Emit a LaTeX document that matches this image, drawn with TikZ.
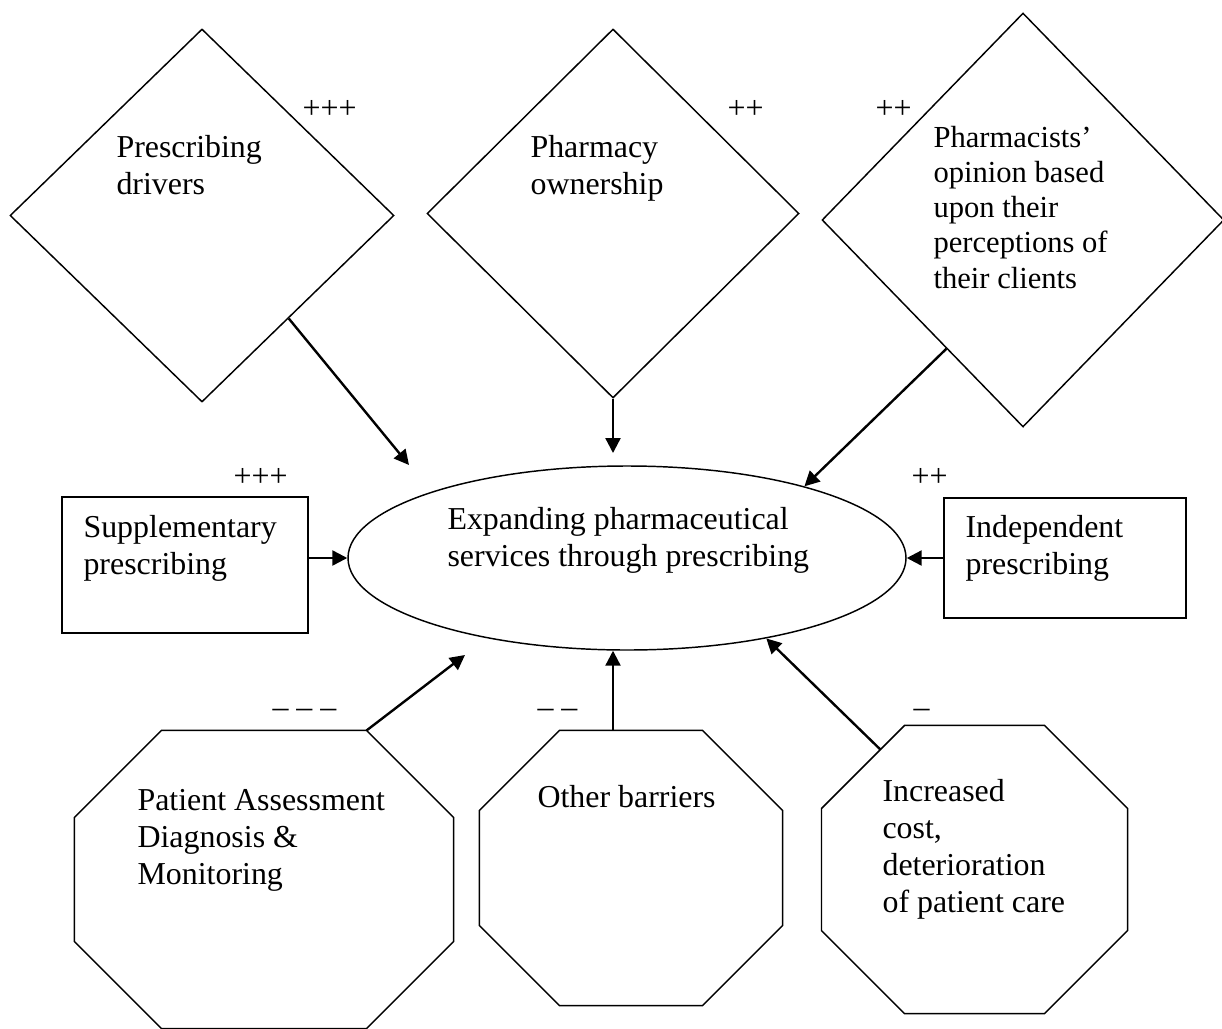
\documentclass[tikz,border=0pt]{standalone}
\usepackage{fontspec}
\setmainfont{Liberation Serif}
\usetikzlibrary{shapes.geometric}
\usetikzlibrary{arrows.meta}
\usetikzlibrary{calc}
\newcommand{\px}{0.376pt}
\tikzset{
    dims/.style 2 args={
        minimum width=#1*\px,
        minimum height=#2*\px
    },
    factorshape/.style={draw, diamond, inner sep=0pt, line width=0.55pt},
    barriershape/.style={rectangle, inner sep=0pt},
    modebox/.style={draw, rectangle, inner sep=0pt, line width=0.55pt},
    aimshape/.style={draw, ellipse, inner sep=0pt, line width=0.55pt},
    labeltext/.style={anchor=base west, align=left, inner sep=0pt,
        font=\fontsize{12}{13.8}\selectfont},
    signtext/.style={anchor=base west, inner sep=0pt,
        font=\fontsize{12}{13.8}\selectfont},
    arrowlink/.style={-{Triangle[length=5.6pt,width=5.6pt]}, line width=0.9pt}
}
\newcommand{\sign}[4] {
	\node[signtext] (#1) at (#2,#3) {#4};
}
% outline of a barrier node, corners cut by #2 pixels
\newcommand{\octagon}[2] {
	\draw[line width=0.55pt]
		([xshift=#2*\px]#1.north west) -- ([xshift=-#2*\px]#1.north east)
		-- ([yshift=-#2*\px]#1.north east) -- ([yshift=#2*\px]#1.south east)
		-- ([xshift=-#2*\px]#1.south east) -- ([xshift=#2*\px]#1.south west)
		-- ([yshift=#2*\px]#1.south west) -- ([yshift=-#2*\px]#1.north west) -- cycle;
}

\begin{document}
\begin{tikzpicture}[x=\px, y=-\px]
		\useasboundingbox (0,0) rectangle (1222,1028);

		% Central aim (texts are placed by the baseline of their last line)
		\node[aimshape, dims={558}{184}] (aim) at (627,558) {};
		\node[labeltext] (aimtext) at (447,566) {Expanding pharmaceutical\\services through prescribing};

		% Drivers on top
		\node[factorshape, dims={384}{373}] (d1) at (202,215.5) {};
		\node[labeltext] (d1text) at (116,194) {Prescribing\\drivers};
		\node[factorshape, dims={372}{369}] (d2) at (613,213.5) {};
		\node[labeltext] (d2text) at (530,194) {Pharmacy\\ownership};
		\node[factorshape, dims={402}{414}] (d3) at (1023,220) {};
		\node[labeltext, font=\fontsize{11.5}{13.2}\selectfont] (d3text) at (933,288)
			{Pharmacists’\\opinion based\\upon their\\perceptions of\\their clients};

		% Modes of prescribing
		\node[modebox, dims={246}{136}] (sup) at (185,565) {};
		\node[labeltext] (suptext) at (83,574) {Supplementary\\prescribing};
		\node[modebox, dims={242}{120}] (ind) at (1065,558) {};
		\node[labeltext] (indtext) at (965,574) {Independent\\prescribing};

		% Barriers below
		\node[barriershape, dims={378}{297}] (pat) at (264,879.5) {};
		\octagon{pat}{87}
		\node[labeltext] (pattext) at (137,884) {Patient Assessment\\Diagnosis \&\\Monitoring};
		\node[barriershape, dims={302}{274}] (oth) at (631,868) {};
		\octagon{oth}{80}
		\node[labeltext] (othtext) at (537,807) {Other barriers};
		\node[barriershape, dims={305}{287}] (inc) at (974.5,869.5) {};
		\octagon{inc}{83}
		\node[labeltext] (inctext) at (882,912) {Increased\\cost,\\deterioration\\of patient care};

		% Signs
		\sign{s1}{302}{118}{+++}
		\sign{s2}{727}{118}{++}
		\sign{s3}{875}{118}{++}
		\sign{s4}{233}{486}{+++}
		\sign{s5}{911}{486}{++}
		\sign{m1}{272}{717}{\textendash{} \textendash{} \textendash}
		\sign{m2}{537}{717}{\textendash{} \textendash}
		\sign{m3}{913}{717}{\textendash}

		% Links into the aim
		\coordinate (d1end) at (409,465);
		\coordinate (d2end) at (613,453);
		\coordinate (patend) at (465,655);
		\coordinate (inctop) at ([xshift=83*\px]inc.north west);
		\coordinate (incside) at ([yshift=-83*\px]inc.north west);
		\draw[arrowlink] ($(d1.east)!0.55!(d1.south)$) -- (d1end);
		\draw[arrowlink] (d2.south) -- (d2end);
		\draw[arrowlink] ($(d3.west)!0.62!(d3.south)$) -- (aim.22);
		\draw[arrowlink] (sup.east |- aim.west) -- (aim.west);
		\draw[arrowlink] (ind.west) -- (aim.east);
		\draw[arrowlink] ([xshift=-87*\px]pat.north east) -- (patend);
		\draw[arrowlink] (oth.north -| d2.south) -- (aim.south -| d2.south);
		\draw[arrowlink] ($(inctop)!0.29!(incside)$) -- (aim.-30);

\end{tikzpicture}
\end{document}
